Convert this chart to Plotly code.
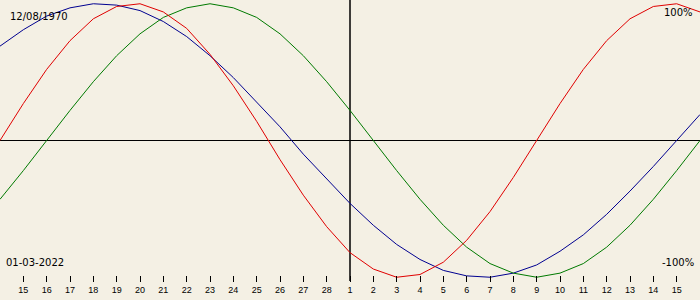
import plotly.graph_objects as go

# Day offsets relative to the target date (01-03-2022)
days = list(range(-15, 16))

# Biorhythm values in percent, read per day from the chart
physical = [0, 27, 52, 73, 89, 98, 100, 94, 82, 63, 40, 14, -14, -40, -63, -82,
            -94, -100, -98, -89, -73, -52, -27, 0, 27, 52, 73, 89, 98, 100, 94]
emotional = [-43, -22, 0, 22, 43, 62, 78, 90, 97, 100, 97, 90, 78, 62, 43, 22,
             0, -22, -43, -62, -78, -90, -97, -100, -97, -90, -78, -62, -43, -22, 0]
intellectual = [69, 81, 91, 97, 100, 99, 95, 87, 76, 62, 46, 28, 10, -10, -28, -46,
                -62, -76, -87, -95, -99, -100, -97, -91, -81, -69, -54, -37, -19, 0, 19]

tick_days = list(range(-14, 15))
tick_labels = [str(d) for d in range(15, 29)] + [str(d) for d in range(1, 16)]

birth_label = "12/08/1970"
target_label = "01-03-2022"
top_label = "100%"
bottom_label = "-100%"

BG = "#F4F0E4"
RED = "#E00000"
GREEN = "#007A00"
BLUE = "#000090"

fig = go.Figure()
for vals, col in [(intellectual, BLUE), (emotional, GREEN), (physical, RED)]:
    fig.add_trace(go.Scatter(x=days, y=vals, mode="lines",
                             line=dict(color=col, width=1), hoverinfo="skip"))

# Axis cross lines
fig.add_shape(type="line", xref="x", yref="y", x0=-15, x1=15, y0=0, y1=0,
              line=dict(color="black", width=1), layer="below")
fig.add_shape(type="line", xref="x", yref="paper", x0=0, x1=0, y0=(300 - 281) / 300, y1=1,
              line=dict(color="black", width=1.5), layer="below")

fnt = dict(family="DejaVu Sans", size=10, color="black")
fig.add_annotation(text=birth_label, xref="paper", yref="paper", x=8 / 700, y=1 - 16 / 300,
                   xanchor="left", yanchor="middle", showarrow=False, font=fnt)
fig.add_annotation(text=target_label, xref="paper", yref="paper", x=4 / 700, y=1 - 262.5 / 300,
                   xanchor="left", yanchor="middle", showarrow=False, font=fnt)
fig.add_annotation(text=top_label, xref="paper", yref="paper", x=695 / 700, y=1 - 12.5 / 300,
                   xanchor="right", yanchor="middle", showarrow=False, font=fnt)
fig.add_annotation(text=bottom_label, xref="paper", yref="paper", x=696 / 700, y=1 - 262.5 / 300,
                   xanchor="right", yanchor="middle", showarrow=False, font=fnt)

fig.update_layout(
    width=700, height=300,
    margin=dict(l=0, r=0, t=0, b=0),
    paper_bgcolor=BG, plot_bgcolor=BG,
    showlegend=False, hovermode=False,
    xaxis=dict(range=[-15, 15], anchor="free", position=(300 - 275) / 300,
               showgrid=False, zeroline=False, showline=False,
               tickmode="array", tickvals=tick_days, ticktext=tick_labels,
               ticks="outside", ticklen=6, tickwidth=1, tickcolor="black",
               tickfont=dict(family="Liberation Sans", size=9, color="black")),
    yaxis=dict(range=[-116.64, 102.74], visible=False, showgrid=False, zeroline=False),
)

fig.write_html("out.html")
